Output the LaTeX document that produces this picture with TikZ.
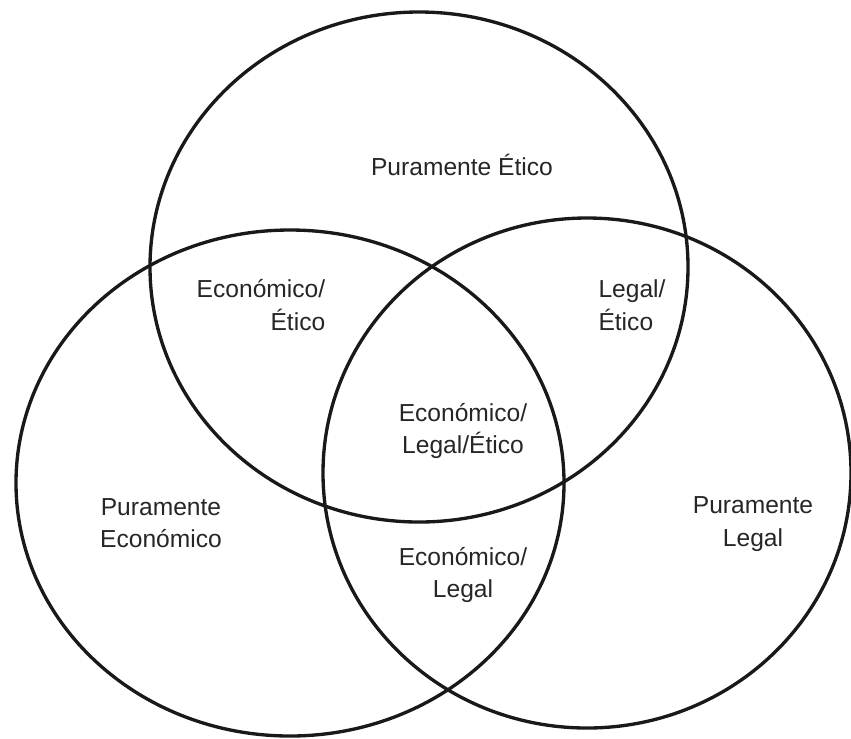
\documentclass[tikz,border=0pt]{standalone}
\usepackage{fontspec}
\setmainfont{Liberation Sans}
\begin{document}
\begin{tikzpicture}[x=0.02cm, y=-0.02cm,
    ring/.style={line width=1.9pt, draw=black!90},
    lbl/.style={text=black!85, inner sep=0pt, font=\fontsize{14}{18.5}\selectfont}]
    \useasboundingbox (0,0) rectangle (851,738);

    % Draw the circles
    \draw[ring] (419,267) ellipse (269 and 255);
    \draw[ring] (290,483) ellipse (274 and 253);
    \draw[ring] (587,473) ellipse (264 and 255);

    % Labels
    \node[lbl] (puroEtico) at (462,165) {Puramente Ético};
    \node[lbl, align=right] (ecoEtico) at (261,305) {Económico/\\Ético};
    \node[lbl, align=left] (legEtico) at (632,305) {Legal/\\Ético};
    \node[lbl, align=center] (ecoLegEtico) at (463,431) {Económico/\\Legal/Ético};
    \node[lbl, align=center] (puroEco) at (161,523) {Puramente\\Económico};
    \node[lbl, align=center] (puroLegal) at (753,524) {Puramente\\Legal};
    \node[lbl, align=center] (ecoLegal) at (463,575) {Económico/\\Legal};
\end{tikzpicture}
\end{document}
